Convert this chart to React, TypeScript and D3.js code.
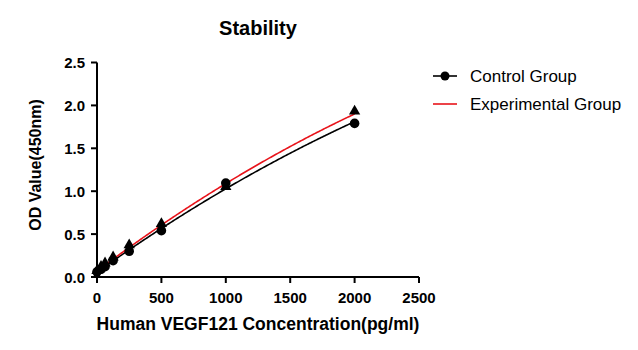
import React from "react";
import * as d3 from "d3";

const concentrations = [0, 31.25, 62.5, 125, 250, 500, 1000, 2000];
const controlValues = [0.06, 0.09, 0.12, 0.19, 0.3, 0.54, 1.095, 1.79];
const experimentalValues = [0.06, 0.11, 0.15, 0.22, 0.36, 0.61, 1.04, 1.92];
const xTicks = [0, 500, 1000, 1500, 2000, 2500];
const yTicks = [0, 0.5, 1.0, 1.5, 2.0, 2.5];
const seriesNames = ["Control Group", "Experimental Group"];

// weighted least squares y = a + b x + c x^2, weights 1/y
function quadFit(xs: number[], ys: number[]) {
  const s = [0, 0, 0, 0, 0];
  const t = [0, 0, 0];
  xs.forEach((x, i) => {
    const yv = ys[i];
    const w = 1 / yv;
    s[0] += w; s[1] += w * x; s[2] += w * x * x; s[3] += w * x * x * x; s[4] += w * x * x * x * x;
    t[0] += w * yv; t[1] += w * x * yv; t[2] += w * x * x * yv;
  });
  const M = [
    [s[0], s[1], s[2], t[0]],
    [s[1], s[2], s[3], t[1]],
    [s[2], s[3], s[4], t[2]],
  ];
  for (let i = 0; i < 3; i++) {
    let p = i;
    for (let r = i + 1; r < 3; r++) if (Math.abs(M[r][i]) > Math.abs(M[p][i])) p = r;
    [M[i], M[p]] = [M[p], M[i]];
    for (let r = 0; r < 3; r++) {
      if (r === i) continue;
      const f = M[r][i] / M[i][i];
      for (let c = i; c < 4; c++) M[r][c] -= f * M[i][c];
    }
  }
  const a = M[0][3] / M[0][0], b = M[1][3] / M[1][1], c = M[2][3] / M[2][2];
  return (x: number) => a + b * x + c * x * x;
}

export default function App() {
  const W = 638, H = 350;
  const x = d3.scaleLinear().domain([0, 2500]).range([97, 419]);
  const y = d3.scaleLinear().domain([0, 2.5]).range([277, 62.5]);
  const font = "Arial, 'Liberation Sans', sans-serif";

  const fitC = quadFit(concentrations, controlValues);
  const fitE = quadFit(concentrations, experimentalValues);
  const samples = d3.range(0, 2000.1, 10);
  const line = (f: (v: number) => number) =>
    d3.line<number>().x((d) => x(d)).y((d) => y(f(d)))(samples) || "";

  const tri = d3.symbol().type(d3.symbolTriangle).size(55)() || "";

  return (
    <svg width={W} height={H} style={{ position: "absolute", left: 0, top: 0, background: "#fff" }}>
      <rect width={W} height={H} fill="#fff" />
      <text x={258} y={35} textAnchor="middle" fontFamily={font} fontWeight="bold" fontSize={20}>
        Stability
      </text>

      {/* curves */}
      <path d={line(fitC)} fill="none" stroke="#000" strokeWidth={1.6} />
      <path d={line(fitE)} fill="none" stroke="#e8141b" strokeWidth={1.6} />

      {/* points */}
      {concentrations.map((c, i) => (
        <path key={"t" + i} d={tri} transform={`translate(${x(c)},${y(experimentalValues[i]) - 1})`} fill="#000" />
      ))}
      {concentrations.map((c, i) => (
        <circle key={"c" + i} cx={x(c)} cy={y(controlValues[i])} r={4.8} fill="#000" />
      ))}

      {/* axes */}
      <line x1={96} x2={419} y1={277} y2={277} stroke="#000" strokeWidth={2} />
      <line x1={97} x2={97} y1={62.5} y2={278} stroke="#000" strokeWidth={2} />
      {xTicks.map((t) => (
        <g key={"x" + t}>
          <line x1={x(t)} x2={x(t)} y1={277} y2={283} stroke="#000" strokeWidth={2} />
          <text x={x(t)} y={303} textAnchor="middle" fontFamily={font} fontWeight="bold" fontSize={15}>
            {t}
          </text>
        </g>
      ))}
      {yTicks.map((t) => (
        <g key={"y" + t}>
          <line x1={91} x2={97} y1={y(t)} y2={y(t)} stroke="#000" strokeWidth={2} />
          <text x={85} y={y(t) + 5.5} textAnchor="end" fontFamily={font} fontWeight="bold" fontSize={15}>
            {t.toFixed(1)}
          </text>
        </g>
      ))}
      <text x={258} y={330} textAnchor="middle" fontFamily={font} fontWeight="bold" fontSize={17.5}>
        Human VEGF121 Concentration(pg/ml)
      </text>
      <text
        transform="translate(41,165) rotate(-90)"
        textAnchor="middle"
        fontFamily={font}
        fontWeight="bold"
        fontSize={16}
      >
        OD Value(450nm)
      </text>

      {/* legend */}
      <line x1={433} x2={457} y1={76} y2={76} stroke="#000" strokeWidth={1.6} />
      <circle cx={445} cy={76} r={4.5} fill="#000" />
      <text x={470} y={82} fontFamily={font} fontSize={17}>{seriesNames[0]}</text>
      <line x1={433} x2={457} y1={104} y2={104} stroke="#e8141b" strokeWidth={1.6} />
      <text x={470} y={110} fontFamily={font} fontSize={17}>{seriesNames[1]}</text>
    </svg>
  );
}
